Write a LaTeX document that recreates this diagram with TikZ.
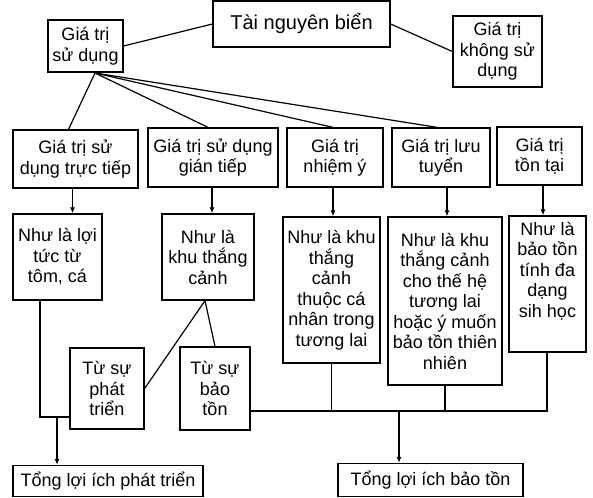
\documentclass[tikz,border=0pt]{standalone}
\usepackage{fontspec}
\setmainfont{Liberation Sans}
\usetikzlibrary{arrows.meta}

\tikzset{
    box/.style={draw, line width=1.3pt, align=center, inner sep=0pt,
        font=\fontsize{18}{20.5}\selectfont},
    arr/.style={-{Latex[length=6pt,width=5pt]}},
}

\begin{document}
\begin{tikzpicture}[x=1pt, y=-1pt, line width=1.2pt]
        \useasboundingbox (0,0) rectangle (593,497);
        % upper part
        \node[box, font=\fontsize{20}{22}\selectfont, minimum width=177pt, minimum height=46pt] (top) at (301.5,24) {Tài nguyên biển};
        \node[box, minimum width=75pt, minimum height=52pt] (use) at (85.5,46) {Giá trị\\sử dụng};
        \node[box, minimum width=89pt, minimum height=71pt] (nonuse) at (497.5,51.5) {Giá trị\\không sử\\dụng};
        \draw (use.east) -- (top.west);
        \draw (top.east) -- (nonuse.west);
        % values
        \node[box, minimum width=125pt, minimum height=58pt] (direct) at (75.5,159) {Giá trị sử\\dụng trực tiếp};
        \node[box, minimum width=130pt, minimum height=59pt] (indirect) at (213,157.5) {Giá trị sử dụng\\gián tiếp};
        \node[box, minimum width=96pt, minimum height=59pt] (option) at (335,157.5) {Giá trị\\nhiệm ý};
        \node[box, minimum width=98pt, minimum height=59pt] (bequest) at (441,157.5) {Giá trị lưu\\tuyển};
        \node[box, minimum width=85pt, minimum height=58pt] (exist) at (539.5,156) {Giá trị\\tồn tại};
        \coordinate (hub) at (95,73);
        \draw (hub) -- ([xshift=-7pt]direct.north);
        \draw (hub) -- ([xshift=-5pt]indirect.north);
        \draw (hub) -- ([xshift=-2pt]option.north);
        \draw (hub) -- ([xshift=-4pt]bequest.north);
        % meanings
        \node[box, minimum width=89pt, minimum height=86pt] (fish) at (57.5,257) {Như là lợi\\tức từ\\tôm, cá};
        \node[box, minimum width=92pt, minimum height=86pt] (scene) at (208,257) {Như là\\khu thắng\\cảnh};
        \node[box, minimum width=97pt, minimum height=146pt] (private) at (331.5,290) {Như là khu\\thắng\\cảnh\\thuộc cá\\nhân trong\\tương lai};
        \node[box, minimum width=114pt, minimum height=168pt] (future) at (445,301) {Như là khu\\thắng cảnh\\cho thế hệ\\tương lai\\hoặc ý muốn\\bảo tồn thiên\\nhiên};
        \node[box, minimum width=77pt, minimum height=136pt] (diverse) at (547.5,284) {Như là\\bảo tồn\\tính đa\\dạng\\sih học\\[8pt]\mbox{}};
        \draw[arr] ([xshift=-3pt]direct.south) -- ([xshift=-3pt]direct.south |- fish.north);
        \draw[arr] ([xshift=-1pt]indirect.south) -- ([xshift=-1pt]indirect.south |- scene.north);
        \draw[arr] ([xshift=-2pt]option.south) -- ([xshift=-2pt]option.south |- private.north);
        \draw[arr] ([xshift=6pt]bequest.south) -- ([xshift=6pt]bequest.south |- future.north);
        \draw[arr] ([xshift=3.5pt]exist.south) -- ([xshift=3.5pt]exist.south |- diverse.north);
        % sources and totals
        \node[box, minimum width=74pt, minimum height=81pt] (dev) at (107,388.5) {Từ sự\\phát\\triển};
        \node[box, minimum width=70pt, minimum height=83pt] (cons) at (215,388.5) {Từ sự\\bảo\\tồn};
        \node[box, minimum width=190pt, minimum height=31pt] (totdev) at (108,481) {Tổng lợi ích phát triển};
        \node[box, minimum width=185pt, minimum height=33pt] (totcons) at (430.5,480) {Tổng lợi ích bảo tồn};
        \coordinate (jdev) at (40,417);
        \coordinate (sdev) at (57,417);
        \draw (jdev |- fish.south) -- (jdev) -- (jdev -| dev.west);
        \draw[arr] (sdev) -- (sdev |- totdev.north);
        \draw ([xshift=-3pt]scene.south) -- (dev.east);
        \draw ([xshift=-3pt]scene.south) -- (cons.north);
        \coordinate (jcons) at (547,411);
        \coordinate (scons) at (399,411);
        \draw (cons.east |- jcons) -- (jcons) -- (jcons |- diverse.south);
        \draw (private.south) -- (private.south |- jcons);
        \draw (future.south) -- (future.south |- jcons);
        \draw[arr] (scons) -- (scons |- totcons.north);
    \end{tikzpicture}
\end{document}
